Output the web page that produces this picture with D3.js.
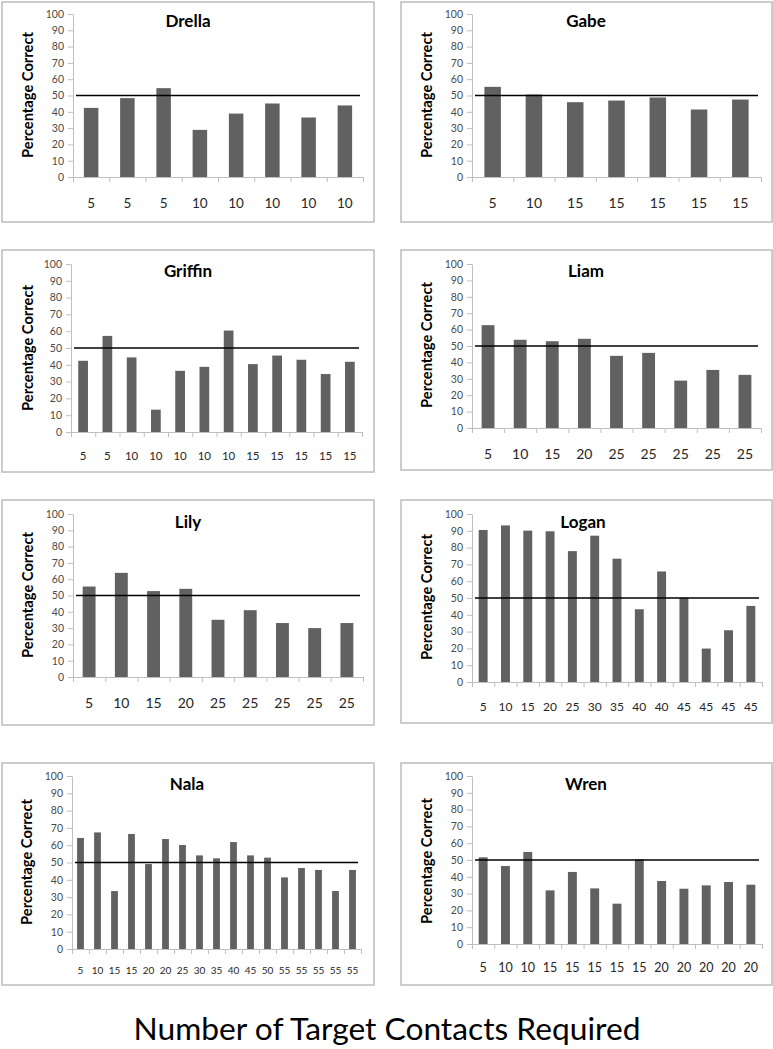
<!DOCTYPE html>
<html>
<head>
<meta charset="utf-8">
<script src="https://cdn.jsdelivr.net/npm/d3@7"></script>
<style>
  html, body { margin: 0; padding: 0; background: #fff; }
  svg { display: block; }
</style>
</head>
<body>
<script>
// ---------------- DATA ----------------
const yTicks = [0, 10, 20, 30, 40, 50, 60, 70, 80, 90, 100];
const chanceLevel = 50;

const drellaLabels = ["5","5","5","10","10","10","10","10"];
const drellaValues = [42.4, 48.4, 54.5, 28.9, 38.9, 45.1, 36.5, 43.9];

const gabeLabels = ["5","10","15","15","15","15","15"];
const gabeValues = [55.3, 50.6, 45.9, 46.9, 48.8, 41.4, 47.5];

const griffinLabels = ["5","5","10","10","10","10","10","15","15","15","15","15"];
const griffinValues = [42.4, 57.2, 44.4, 13.3, 36.4, 38.8, 60.4, 40.4, 45.5, 43.0, 34.5, 41.8];

const liamLabels = ["5","10","15","20","25","25","25","25","25"];
const liamValues = [62.7, 53.8, 52.9, 54.4, 44.0, 45.8, 28.9, 35.4, 32.4];

const lilyLabels = ["5","10","15","20","25","25","25","25","25"];
const lilyValues = [55.5, 63.9, 52.7, 54.1, 35.1, 41.0, 33.1, 30.0, 33.1];

const loganLabels = ["5","10","15","20","25","30","35","40","40","45","45","45","45"];
const loganValues = [90.5, 93.2, 90.1, 89.7, 77.9, 87.1, 73.4, 43.3, 65.8, 50.1, 19.9, 30.8, 45.3];

const nalaLabels = ["5","10","15","15","20","20","25","30","35","40","45","50","55","55","55","55","55"];
const nalaValues = [64.2, 67.4, 33.5, 66.5, 49.1, 63.6, 60.1, 54.1, 52.4, 61.8, 54.1, 52.8, 41.4, 46.8, 45.7, 33.5, 45.7];

const wrenLabels = ["5","10","10","15","15","15","15","15","20","20","20","20","20"];
const wrenValues = [51.6, 46.4, 54.8, 31.9, 42.9, 33.1, 24.0, 50.4, 37.5, 32.9, 34.9, 36.9, 35.3];

const panelNames = ["Drella", "Gabe", "Griffin", "Liam", "Lily", "Logan", "Nala", "Wren"];
const yAxisTitle = "Percentage Correct";
const xAxisTitle = "Number of Target Contacts Required";

const panels = [
  { name: panelNames[0], labels: drellaLabels, values: drellaValues },
  { name: panelNames[1], labels: gabeLabels, values: gabeValues },
  { name: panelNames[2], labels: griffinLabels, values: griffinValues },
  { name: panelNames[3], labels: liamLabels, values: liamValues },
  { name: panelNames[4], labels: lilyLabels, values: lilyValues },
  { name: panelNames[5], labels: loganLabels, values: loganValues },
  { name: panelNames[6], labels: nalaLabels, values: nalaValues },
  { name: panelNames[7], labels: wrenLabels, values: wrenValues }
];

// ---------------- LAYOUT ----------------
// box: [left, top, right, bottom]; plot: x0, x1, y0 (value 0), y100 (value 100)
const layout = [
  { box: [2, 2, 374, 222],   x0: 73,  x1: 363, y0: 177, y100: 14,  tx: 188, ty: 27,  lx: 27,  ly: 95,  xly: 208, xfs: 13.5 },
  { box: [401, 2, 772, 222], x0: 472, x1: 761, y0: 177, y100: 14,  tx: 586, ty: 27,  lx: 426, ly: 95,  xly: 208, xfs: 14 },
  { box: [2, 250, 374, 472], x0: 71,  x1: 362, y0: 432, y100: 264, tx: 188, ty: 277, lx: 27,  ly: 348, xly: 460, xfs: 11.5 },
  { box: [401, 250, 772, 470], x0: 472, x1: 761, y0: 428, y100: 264, tx: 586, ty: 277, lx: 426, ly: 345, xly: 459, xfs: 14 },
  { box: [2, 500, 374, 725], x0: 73,  x1: 363, y0: 677, y100: 514, tx: 188, ty: 528, lx: 27,  ly: 595, xly: 708, xfs: 14 },
  { box: [401, 500, 772, 723], x0: 472, x1: 762, y0: 682, y100: 514, tx: 583, ty: 528, lx: 426, ly: 597, xly: 711, xfs: 12 },
  { box: [2, 763, 374, 985], x0: 72,  x1: 361, y0: 949, y100: 776, tx: 187, ty: 790, lx: 26,  ly: 862, xly: 974, xfs: 10 },
  { box: [401, 763, 772, 985], x0: 472, x1: 762, y0: 944, y100: 776, tx: 586, ty: 790, lx: 426, ly: 861, xly: 972, xfs: 12.5 }
];

const FONT = "Lato, 'Open Sans', 'DejaVu Sans', sans-serif";
const BAR = "#616161";
const AXIS = "#bfbfbf";
const BORDER = "#bcbcbc";

const W = 773, H = 1049;
const svg = d3.select("body").append("svg")
  .attr("width", W).attr("height", H)
  .style("background", "#fff");

function fitText(sel, basePx, target) {
  const l = sel.node().getComputedTextLength();
  if (l > 0) sel.style("font-size", (basePx * target / l).toFixed(2) + "px");
}

panels.forEach((p, i) => {
  const L = layout[i];
  const n = p.values.length;
  const g = svg.append("g").attr("class", "panel");

  // frame
  g.append("rect")
    .attr("x", L.box[0]).attr("y", L.box[1])
    .attr("width", L.box[2] - L.box[0]).attr("height", L.box[3] - L.box[1])
    .attr("fill", "#fff").attr("stroke", BORDER).attr("stroke-width", 1.5);

  const x = d3.scaleBand().domain(d3.range(n)).range([L.x0, L.x1])
    .paddingInner(0.6).paddingOuter(0.3);
  const xb = d3.scaleLinear().domain([0, n]).range([L.x0, L.x1]);
  const y = d3.scaleLinear().domain([0, 100]).range([L.y0, L.y100]);

  // y axis
  const ya = g.append("g").attr("transform", `translate(${L.x0},0)`)
    .call(d3.axisLeft(y).tickValues(yTicks).tickSize(5).tickSizeOuter(0).tickPadding(4));
  ya.select(".domain").attr("stroke", AXIS);
  ya.selectAll(".tick line").attr("stroke", AXIS);
  ya.selectAll(".tick text").attr("fill", "#4a4a4a")
    .style("font-family", FONT).style("font-size", "10.5px");

  // x axis (tick marks at category boundaries)
  const xa = g.append("g").attr("transform", `translate(0,${L.y0})`)
    .call(d3.axisBottom(xb).tickValues(d3.range(n + 1)).tickSize(5).tickSizeOuter(0).tickFormat(""));
  xa.select(".domain").attr("stroke", AXIS);
  xa.selectAll(".tick line").attr("stroke", AXIS);

  // bars
  g.selectAll("rect.bar").data(p.values).enter().append("rect")
    .attr("class", "bar")
    .attr("x", (d, j) => x(j))
    .attr("width", x.bandwidth())
    .attr("y", d => y(d))
    .attr("height", d => y(0) - y(d))
    .attr("fill", BAR);

  // category labels
  g.selectAll("text.cat").data(p.labels).enter().append("text")
    .attr("class", "cat")
    .attr("x", (d, j) => x(j) + x.bandwidth() / 2)
    .attr("y", L.xly)
    .attr("text-anchor", "middle")
    .style("font-family", FONT).style("font-size", L.xfs + "px")
    .attr("fill", "#262626")
    .text(d => d);

  // 50% chance line
  g.append("line")
    .attr("x1", L.x0 + 3).attr("x2", L.x1 - 3)
    .attr("y1", y(chanceLevel)).attr("y2", y(chanceLevel))
    .attr("stroke", "#000").attr("stroke-width", 1.6);

  // title
  g.append("text")
    .attr("x", L.tx).attr("y", L.ty)
    .attr("text-anchor", "middle")
    .style("font-family", FONT).style("font-weight", "bold").style("font-size", "17px")
    .attr("fill", "#000")
    .text(p.name);

  // y axis title
  const yt = g.append("text")
    .attr("transform", `translate(${L.lx},${L.ly}) rotate(-90)`)
    .attr("text-anchor", "middle")
    .attr("dominant-baseline", "central")
    .style("font-family", FONT).style("font-weight", "bold").style("font-size", "13px")
    .attr("fill", "#000")
    .text(yAxisTitle);
  fitText(yt, 13, 126);
});

// Overall x title
const big = svg.append("text")
  .attr("x", 387).attr("y", 1040)
  .attr("text-anchor", "middle")
  .style("font-family", FONT).style("font-size", "30px")
  .attr("fill", "#000")
  .text(xAxisTitle);
fitText(big, 30, 507);
</script>
</body>
</html>
